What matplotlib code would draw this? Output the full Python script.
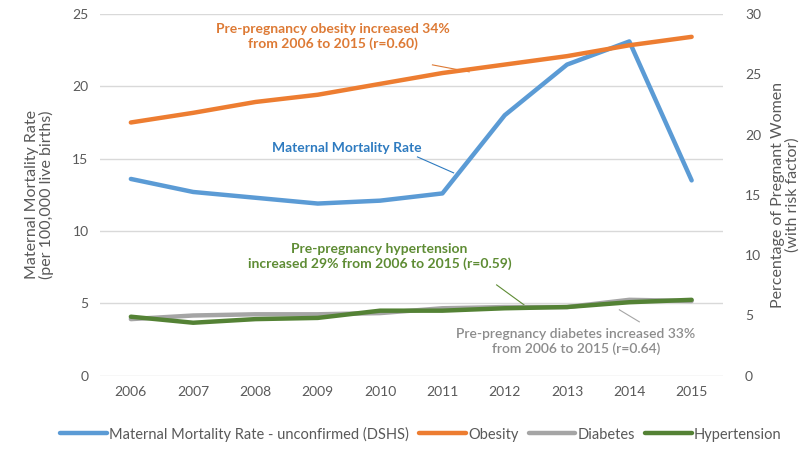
import matplotlib
matplotlib.use("Agg")
import matplotlib.pyplot as plt

plt.rcParams['font.family'] = ['Lato', 'DejaVu Sans']

years = [2006, 2007, 2008, 2009, 2010, 2011, 2012, 2013, 2014, 2015]
mmr = [13.6, 12.7, 12.3, 11.9, 12.1, 12.6, 18.0, 21.5, 23.1, 13.5]
obesity = [21.0, 21.8, 22.7, 23.3, 24.2, 25.1, 25.8, 26.5, 27.4, 28.1]
diabetes = [4.7, 5.0, 5.1, 5.1, 5.2, 5.6, 5.7, 5.7, 6.3, 6.2]
hypertension = [4.9, 4.4, 4.7, 4.8, 5.4, 5.4, 5.6, 5.7, 6.1, 6.3]

blue = "#5B9BD5"
orange = "#ED7D31"
gray = "#A5A5A5"
green = "#548235"
tick_col = "#595959"

fig = plt.figure(figsize=(8.04, 4.49), dpi=100)
ax = fig.add_axes([0.124, 0.163, 0.775, 0.806])
ax2 = ax.twinx()

x = list(range(len(years)))
l1, = ax.plot(x, mmr, color=blue, lw=3.2, solid_capstyle='round', zorder=3,
              label="Maternal Mortality Rate - unconfirmed (DSHS)")
l2, = ax2.plot(x, obesity, color=orange, lw=3.2, solid_capstyle='round', label="Obesity")
l3, = ax2.plot(x, diabetes, color=gray, lw=3.2, solid_capstyle='round', label="Diabetes")
l4, = ax2.plot(x, hypertension, color=green, lw=3.2, solid_capstyle='round', label="Hypertension")

ax.set_xlim(-0.5, len(years) - 0.5)
ax.set_ylim(0, 25)
ax2.set_ylim(0, 30)
ax.set_yticks(range(0, 26, 5))
ax2.set_yticks(range(0, 31, 5))
ax.set_xticks(x)
ax.set_xticklabels([str(y) for y in years])
ax.grid(axis='y', color="#D9D9D9", lw=1)
ax.set_axisbelow(True)
for a in (ax, ax2):
    for s in a.spines.values():
        s.set_visible(False)
    a.tick_params(length=0, labelsize=10, colors=tick_col, pad=8)
ax.tick_params(axis='x', pad=7)
ax2.tick_params(pad=16)

ax.set_ylabel("Maternal Mortality Rate\n(per 100,000 live births)", fontsize=11.5,
              color=tick_col, labelpad=13, linespacing=1.0)
ax2.set_ylabel("Percentage of Pregnant Women\n(with risk factor)", fontsize=11.5,
               color=tick_col, labelpad=7, linespacing=1.0)

# annotations
ax.text(3.24, 23.45, "Pre-pregnancy obesity increased 34%\nfrom 2006 to 2015 (r=0.60)",
        ha='center', va='center', fontsize=10, fontweight='bold', color="#DD7A35", linespacing=1.25)
ax.plot([4.84, 5.43], [21.48, 21.0], color="#DD7A35", lw=0.8)

ax.text(3.46, 15.75, "Maternal Mortality Rate", ha='center', va='center',
        fontsize=10, fontweight='bold', color="#2E7BC0")
ax.plot([4.60, 5.18], [15.12, 14.02], color="#2E7BC0", lw=0.8)

ax.text(3.99, 8.25, "Pre-pregnancy hypertension\nincreased 29% from 2006 to 2015 (r=0.59)",
        ha='center', va='center', fontsize=10, fontweight='bold', color="#5E8C34", linespacing=1.25)
ax.plot([5.87, 6.31], [6.28, 4.9], color="#5E8C34", lw=0.8)

ax.text(7.14, 2.35, "Pre-pregnancy diabetes increased 33%\nfrom 2006 to 2015 (r=0.64)",
        ha='center', va='center', fontsize=10, fontweight='semibold', color="#8C8C8C", linespacing=1.25)
ax.plot([7.84, 8.16], [4.56, 3.73], color="#A5A5A5", lw=0.8)

fig.legend(handles=[l1, l2, l3, l4], loc='center', bbox_to_anchor=(421 / 804, 1 - 434 / 449),
           ncol=4, frameon=False, fontsize=10.5, handlelength=3.2, handletextpad=0.15,
           columnspacing=0.7, labelcolor=tick_col)

fig.savefig("out.png", dpi=100)
